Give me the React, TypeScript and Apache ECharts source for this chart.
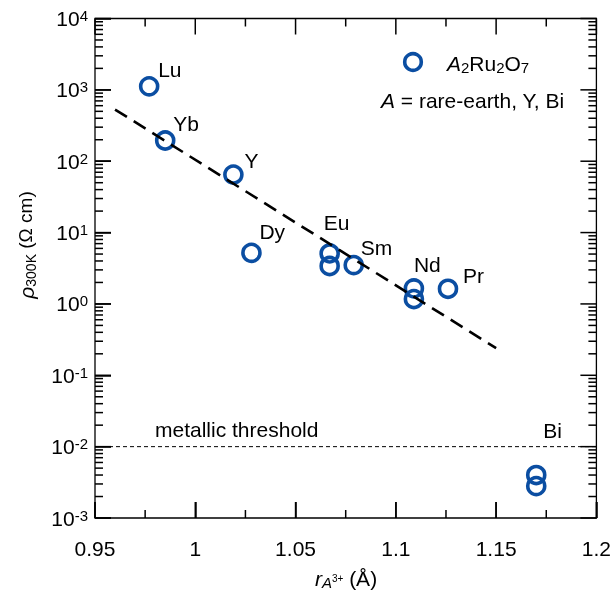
import React, { useEffect, useRef } from "react";
import * as echarts from "echarts";

// ---- data ----
const elements = ["Lu", "Yb", "Y", "Dy", "Eu", "Eu", "Sm", "Nd", "Nd", "Pr", "Bi", "Bi"];
const pointLabels = ["Lu", "Yb", "Y", "Dy", "Eu", "", "Sm", "Nd", "", "Pr", "Bi", ""];
const ionicRadius = [0.977, 0.985, 1.019, 1.028, 1.067, 1.067, 1.079, 1.109, 1.109, 1.126, 1.17, 1.17];
const resistivity = [1120, 195, 65, 5.2, 5.1, 3.4, 3.5, 1.65, 1.17, 1.63, 0.004, 0.0028];
const fitX = [0.96, 1.15];
const fitY = [530, 0.24];
const thresholdValue = 0.01;
const xTicks = [0.95, 1.0, 1.05, 1.1, 1.15, 1.2];
const yDecades = [-3, -2, -1, 0, 1, 2, 3, 4];

// ---- styles ----
const FONT = "'Liberation Sans', Arial, Helvetica, sans-serif";
const BLUE = "#0b4ea2";
const AXIS = "#000000";
const TXT = "#000";
const X_MIN = xTicks[0];
const X_MAX = xTicks[xTicks.length - 1];
const Y_MIN = Math.pow(10, yDecades[0]);
const Y_MAX = Math.pow(10, yDecades[yDecades.length - 1]);
const MAJOR_LEN = 16;
const MINOR_LEN = 8;
const TICK_W = 1.5;

const labelOffsets: Record<string, [number, number]> = {
  Lu: [9, -17],
  Yb: [8, -17],
  Y: [11, -14],
  Dy: [8, -21],
  Eu: [-6, -31],
  Sm: [7, -18],
  Nd: [0, -24],
  Pr: [15, -13],
  Bi: [7, -45],
};

// tick values (axis structure)
const yMajorValues = yDecades.map((d) => Math.pow(10, d));
const yMinorValues: number[] = [];
yDecades.slice(0, -1).forEach((d) => {
  for (let m = 2; m <= 9; m++) yMinorValues.push(m * Math.pow(10, d));
});
const xMajorValues = xTicks.slice();
const xMinorValues = xTicks.slice(0, -1).map((t, i) => (t + xTicks[i + 1]) / 2);

function tickScatter(data: number[][], size: number[], offset: number[]) {
  return {
    type: "scatter",
    silent: true,
    clip: false,
    z: 10,
    symbol: "rect",
    symbolSize: size,
    symbolOffset: offset,
    itemStyle: { color: AXIS, opacity: 1 },
    emphasis: { disabled: true },
    label: { show: false },
    data,
  };
}

export default function App() {
  const ref = useRef<HTMLDivElement>(null);
  useEffect(() => {
    if (!ref.current) return;
    const chart = echarts.init(ref.current, null, { renderer: "svg" });

    const option: any = {
      animation: false,
      textStyle: { fontFamily: FONT },
      grid: {
        left: 95,
        right: 17,
        top: 15,
        bottom: 76,
        show: true,
        borderColor: AXIS,
        borderWidth: 1.3,
        backgroundColor: "transparent",
      },
      xAxis: {
        type: "value",
        min: X_MIN,
        max: X_MAX,
        interval: 0.05,
        splitLine: { show: false },
        axisLine: { show: false },
        axisTick: { show: true, inside: true, length: MAJOR_LEN, lineStyle: { color: "#000000", width: TICK_W } },
        axisLabel: {
          show: true,
          margin: 20,
          fontSize: 21,
          color: TXT,
          fontFamily: FONT,
          formatter: (v: number) => String(Math.round(v * 100) / 100),
        },
      },
      yAxis: {
        type: "log",
        logBase: 10,
        min: Y_MIN,
        max: Y_MAX,
        splitLine: { show: false },
        axisLine: { show: false },
        axisTick: { show: true, inside: true, length: MAJOR_LEN, lineStyle: { color: "#000000", width: TICK_W } },
        axisLabel: {
          show: true,
          margin: 7,
          color: TXT,
          fontFamily: FONT,
          formatter: (v: number) => `{b|10}{e|${Math.round(Math.log10(v))}}`,
          rich: {
            b: { fontSize: 21, lineHeight: 21, padding: [8, 0, 0, 0], verticalAlign: "bottom", fontFamily: FONT, color: TXT },
            e: { fontSize: 15, lineHeight: 15, verticalAlign: "top", fontFamily: FONT, color: TXT },
          },
        },
      },
      series: [
        tickScatter(yMajorValues.map((v) => [X_MIN, v]), [MAJOR_LEN, TICK_W], [MAJOR_LEN / 2, 0]),
        tickScatter(yMinorValues.map((v) => [X_MIN, v]), [MINOR_LEN, TICK_W], [MINOR_LEN / 2, 0]),
        tickScatter(yMajorValues.map((v) => [X_MAX, v]), [MAJOR_LEN, TICK_W], [-MAJOR_LEN / 2, 0]),
        tickScatter(yMinorValues.map((v) => [X_MAX, v]), [MINOR_LEN, TICK_W], [-MINOR_LEN / 2, 0]),
        tickScatter(xMajorValues.map((v) => [v, Y_MIN]), [TICK_W, MAJOR_LEN], [0, -MAJOR_LEN / 2]),
        tickScatter(xMinorValues.map((v) => [v, Y_MIN]), [TICK_W, MINOR_LEN], [0, -MINOR_LEN / 2]),
        tickScatter(xMajorValues.map((v) => [v, Y_MAX]), [TICK_W, MAJOR_LEN], [0, MAJOR_LEN / 2]),
        tickScatter(xMinorValues.map((v) => [v, Y_MAX]), [TICK_W, MINOR_LEN], [0, MINOR_LEN / 2]),
        {
          type: "line",
          name: "threshold",
          symbol: "none",
          z: 2,
          data: [
            [X_MIN, thresholdValue],
            [X_MAX, thresholdValue],
          ],
          lineStyle: { color: "#000", width: 1, type: [4, 3] },
        },
        {
          type: "scatter",
          name: "A2Ru2O7",
          symbol: "circle",
          symbolSize: 17,
          z: 3,
          itemStyle: { color: "rgba(0,0,0,0)", borderColor: BLUE, borderWidth: 3.6, opacity: 1 },
          data: ionicRadius.map((x, i) => {
            const lbl = pointLabels[i];
            const off = labelOffsets[lbl] || [0, 0];
            return {
              name: elements[i],
              value: [x, resistivity[i]],
              label: {
                show: lbl !== "",
                formatter: lbl,
                position: "inside",
                align: "left",
                verticalAlign: "middle",
                offset: off,
                fontSize: 21,
                color: TXT,
                fontFamily: FONT,
              },
            };
          }),
        },
        {
          type: "line",
          name: "fit",
          symbol: "none",
          z: 4,
          data: fitX.map((x, i) => [x, fitY[i]]),
          lineStyle: { color: "#000", width: 2.6, type: [14, 8], opacity: 1 },
        },
      ],
      graphic: [
        {
          type: "text",
          left: 155,
          top: 419,
          style: { text: "metallic threshold", fontSize: 21, fill: TXT, fontFamily: FONT },
        },
        {
          type: "circle",
          shape: { cx: 413, cy: 62, r: 8.3 },
          style: { fill: "none", stroke: BLUE, lineWidth: 3.6 },
        },
        {
          type: "text",
          x: 447,
          y: 64,
          style: {
            text: "{i|A}{s|2}{n|Ru}{s|2}{n|O}{s|7}",
            verticalAlign: "middle",
            align: "left",
            rich: {
              i: { fontSize: 21, fontStyle: "italic", lineHeight: 22, padding: [0, 0, 6, 0], verticalAlign: "top", fontFamily: FONT, fill: TXT },
              n: { fontSize: 21, lineHeight: 22, padding: [0, 0, 6, 0], verticalAlign: "top", fontFamily: FONT, fill: TXT },
              s: { fontSize: 15, lineHeight: 15, verticalAlign: "bottom", fontFamily: FONT, fill: TXT },
            },
          },
        },
        {
          type: "text",
          x: 381,
          y: 100,
          style: {
            text: "{i|A}{n| = rare-earth, Y, Bi}",
            verticalAlign: "middle",
            align: "left",
            rich: {
              i: { fontSize: 21, fontStyle: "italic", fontFamily: FONT, fill: TXT },
              n: { fontSize: 21, fontFamily: FONT, fill: TXT },
            },
          },
        },
        {
          type: "text",
          x: 346,
          y: 578.5,
          style: {
            text: "{r|r}{a|A}{p|3+}{n| (Å)}",
            align: "center",
            verticalAlign: "middle",
            rich: {
              r: { fontSize: 21, fontStyle: "italic", lineHeight: 22, padding: [0, 0, 6, 0], verticalAlign: "top", fontFamily: FONT, fill: TXT },
              n: { fontSize: 21, lineHeight: 22, padding: [0, 0, 6, 0], verticalAlign: "top", fontFamily: FONT, fill: TXT },
              a: { fontSize: 15, fontStyle: "italic", lineHeight: 15, verticalAlign: "bottom", fontFamily: FONT, fill: TXT },
              p: { fontSize: 10, lineHeight: 10, padding: [6, 0, 0, 0], verticalAlign: "top", fontFamily: FONT, fill: TXT },
            },
          },
        },
        {
          type: "text",
          x: 26.5,
          y: 245,
          rotation: Math.PI / 2,
          style: {
            text: "{r|ρ}{s|300K}{n| (Ω cm)}",
            align: "center",
            verticalAlign: "middle",
            rich: {
              r: { fontSize: 21, fontStyle: "italic", lineHeight: 22, padding: [0, 0, 8, 0], verticalAlign: "top", fontFamily: FONT, fill: TXT },
              n: { fontSize: 19, lineHeight: 22, padding: [0, 0, 8, 0], verticalAlign: "top", fontFamily: FONT, fill: TXT },
              s: { fontSize: 14, lineHeight: 15, verticalAlign: "bottom", fontFamily: FONT, fill: TXT },
            },
          },
        },
      ],
    };

    chart.setOption(option);
    return () => chart.dispose();
  }, []);

  return <div ref={ref} style={{ position: "fixed", left: 0, top: 0, width: 614, height: 594 }} />;
}
